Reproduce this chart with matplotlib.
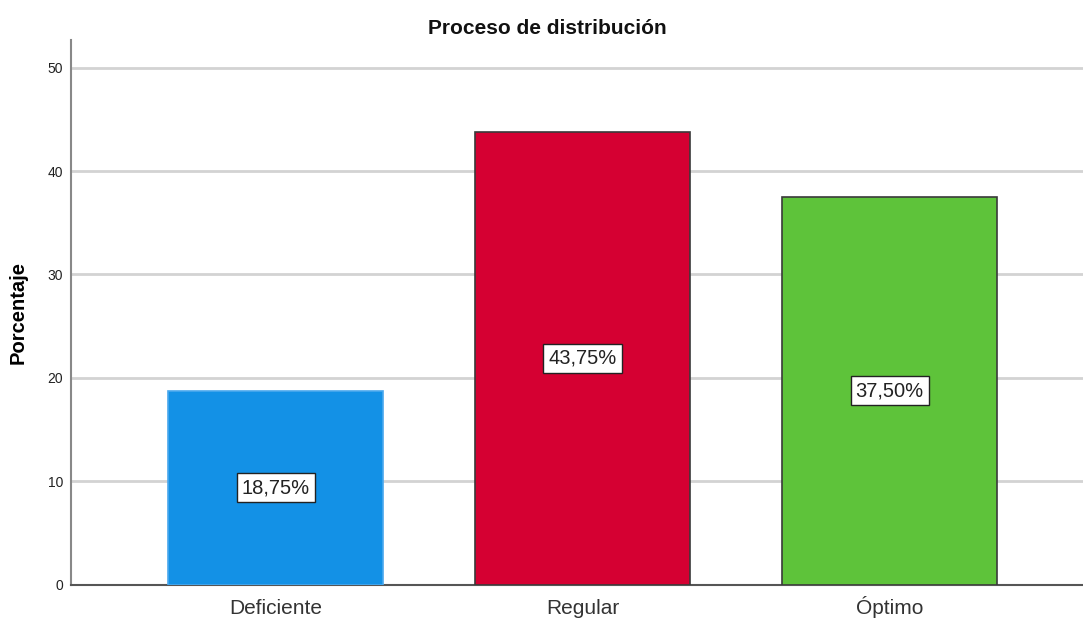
import matplotlib.pyplot as plt

categorias = ['Deficiente', 'Regular', 'Óptimo']
porcentajes = [18.75, 43.75, 37.50]
etiquetas = ['18,75%', '43,75%', '37,50%']
colores = ['#1391e6', '#d50032', '#5ec33a']
bordes = ['#4aa8ee', '#3a3a3a', '#3a3a3a']

plt.rcParams['font.family'] = ['Liberation Sans', 'DejaVu Sans']

fig = plt.figure(figsize=(10.83, 6.18), dpi=100)
ax = fig.add_axes([0.066, 0.054, 0.934, 0.881])

x = range(len(categorias))
ax.bar(x, porcentajes, width=0.7, color=colores, edgecolor=bordes,
       linewidth=1.2, zorder=3)

# etiquetas con recuadro blanco a media altura
for i, v in enumerate(porcentajes):
    ax.text(i, v / 2, etiquetas[i], ha='center', va='center', fontsize=14.5,
            color='#222222', zorder=4,
            bbox=dict(boxstyle='square,pad=0.25', facecolor='white',
                      edgecolor='#222222', linewidth=1))

ax.set_xlim(-0.665, 2.63)
ax.set_ylim(0, 52.66)
ax.set_yticks([0, 10, 20, 30, 40, 50])
ax.set_xticks(list(x))
ax.set_xticklabels(categorias, fontsize=15, color='#333333', va='baseline')
ax.tick_params(axis='y', length=0, pad=6, labelsize=10, labelcolor='#222222')
ax.tick_params(axis='x', length=0, pad=21)

ax.grid(axis='y', color='#d3d3d3', linewidth=2, zorder=0)
for s in ['top', 'right']:
    ax.spines[s].set_visible(False)
ax.spines['left'].set_color('#888888')
ax.spines['left'].set_linewidth(1.5)
ax.spines['bottom'].set_color('#555555')
ax.spines['bottom'].set_linewidth(1.5)

ax.set_ylabel('Porcentaje', fontsize=14.5, fontweight='bold', labelpad=14)
fig.text(0.505, 0.954, 'Proceso de distribución', ha='center', va='center',
         fontsize=15, fontweight='bold', color='#111111')

fig.savefig('out.png', dpi=100)
